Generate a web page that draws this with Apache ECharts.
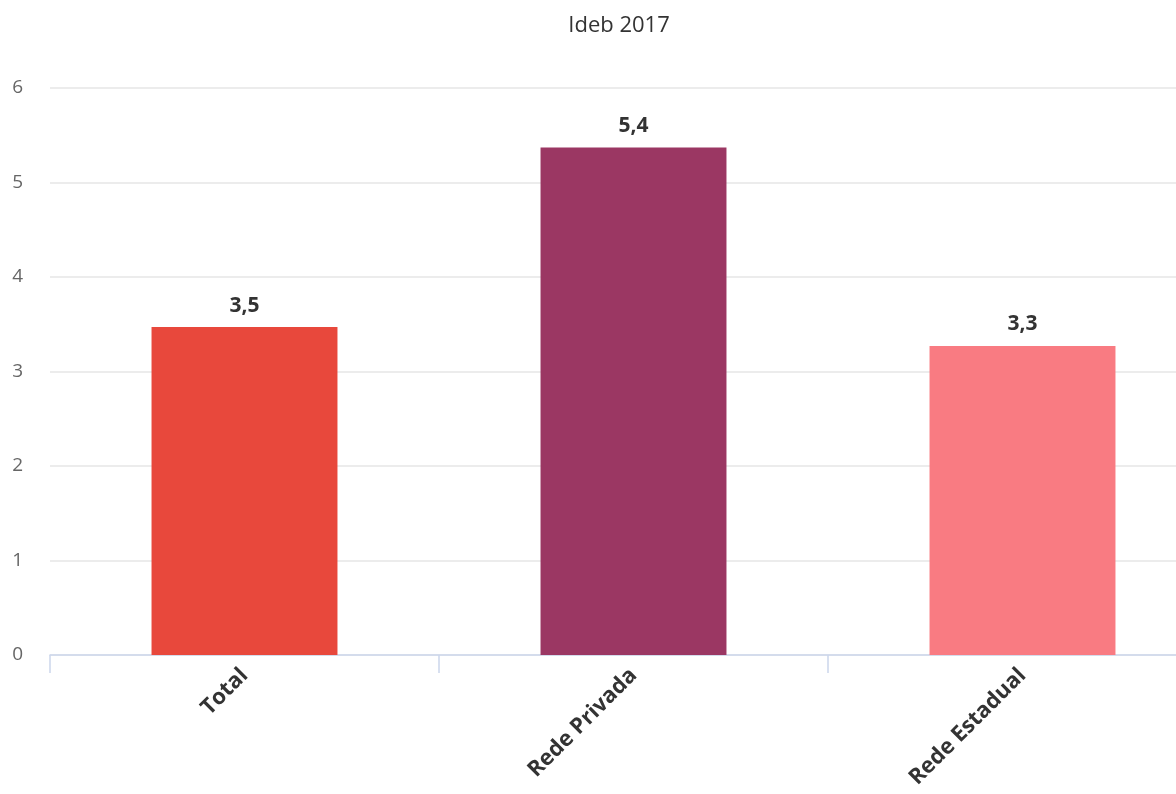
<!DOCTYPE html>
<html>
<head>
<meta charset="utf-8">
<script src="https://cdn.jsdelivr.net/npm/echarts@6/dist/echarts.min.js"></script>
<style>
html,body{margin:0;padding:0;background:#fff;overflow:hidden;width:1176px;height:794px;}
#chart{width:1260px;height:794px;}
</style>
</head>
<body>
<div id="chart"></div>
<script>
const titleText = 'Ideb 2017';
const categories = ['Total', 'Rede Privada', 'Rede Estadual'];
const values = [3.47, 5.37, 3.27];
const barColors = ['#E8483C', '#9B3763', '#F97B82'];
const yTicks = [0, 1, 2, 3, 4, 5, 6];

const chart = echarts.init(document.getElementById('chart'), null, {renderer: 'canvas'});
const font = '"Open Sans", "Noto Sans", sans-serif';
chart.setOption({
  animation: false,
  textStyle: {fontFamily: font},
  title: {
    text: titleText,
    left: 614, top: 10, textAlign: 'center',
    textStyle: {fontFamily: font, fontSize: 22, fontWeight: 'normal', color: '#333'}
  },
  grid: {left: 50, right: 43, top: 88, bottom: 139, containLabel: false},
  xAxis: {
    type: 'category',
    data: categories,
    axisLine: {lineStyle: {color: '#ccd6eb', width: 1.5}},
    axisTick: {show: true, length: 18, lineStyle: {color: '#ccd6eb', width: 1.5}},
    axisLabel: {
      rotate: 45, margin: 17, interval: 0,
      fontFamily: font, fontSize: 22, fontWeight: 'bold', color: '#333'
    }
  },
  yAxis: {
    type: 'value',
    min: yTicks[0], max: yTicks[yTicks.length - 1], interval: 1,
    axisLine: {show: false},
    axisTick: {show: false},
    axisLabel: {margin: 27, fontFamily: font, fontSize: 19, color: '#666'},
    splitLine: {lineStyle: {color: '#e6e6e6', width: 1.5}}
  },
  series: [{
    type: 'bar',
    barWidth: '47.8%',
    data: values.map((v, i) => ({value: v, itemStyle: {color: barColors[i]}})),
    label: {
      show: true, position: 'top', distance: 11,
      fontFamily: font, fontSize: 21, fontWeight: 'bold', color: '#333',
      textBorderColor: '#fff', textBorderWidth: 2,
      formatter: p => p.value.toFixed(1).replace('.', ',')
    }
  }]
});
</script>
</body>
</html>
